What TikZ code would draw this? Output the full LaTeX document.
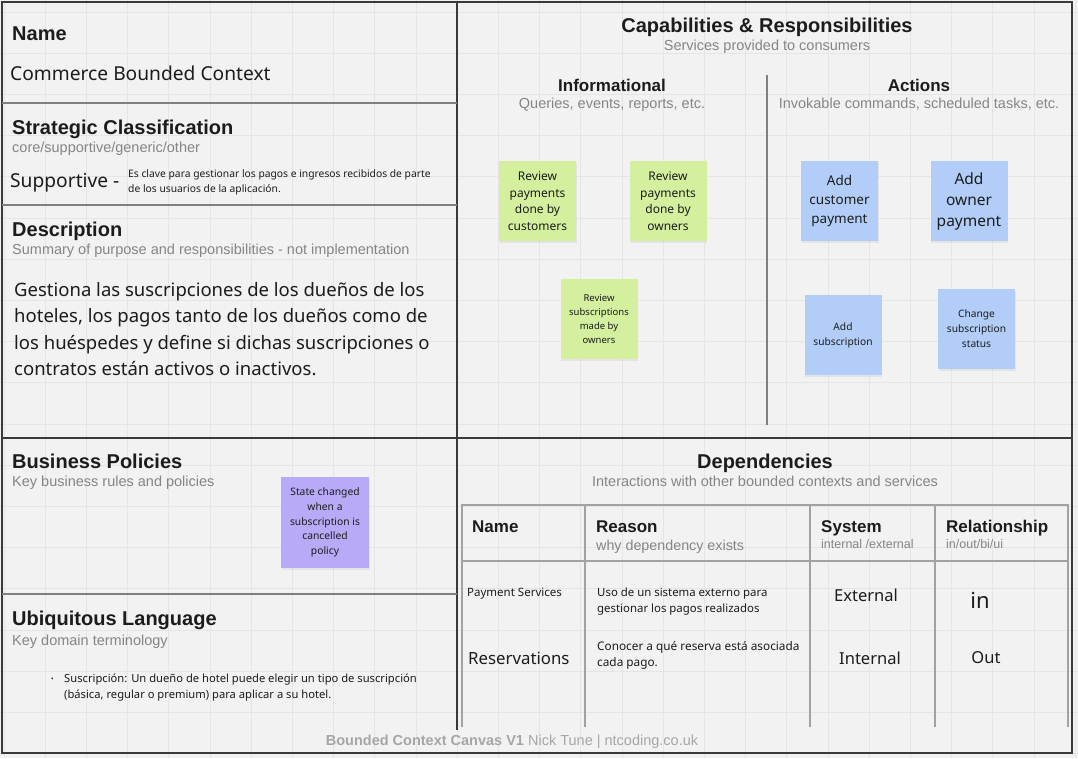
\documentclass[tikz,border=0pt]{standalone}
\usepackage{fontspec}
\setmainfont{Noto Sans}
\newfontfamily\headfont{Liberation Sans}
\usetikzlibrary{shadows}

\definecolor{canvasBg}{HTML}{F2F2F2}
\definecolor{gridLine}{HTML}{E5E5E5}
\definecolor{frameDark}{HTML}{3A3A3A}
\definecolor{frameGrey}{HTML}{808080}
\definecolor{tableGrey}{HTML}{A2A2A2}
\definecolor{subGrey}{HTML}{858585}
\definecolor{footGrey}{HTML}{A6A6A6}
\definecolor{inkText}{HTML}{1C1C1C}
\definecolor{noteGreen}{HTML}{D4EF9E}
\definecolor{noteBlue}{HTML}{B2CEF8}
\definecolor{notePurple}{HTML}{B8AAF7}

\tikzset{
  title/.style={font=\headfont\bfseries\fontsize{20}{24}\selectfont, text=inkText, inner sep=0pt},
  subtitle/.style={font=\headfont\fontsize{14.5}{17}\selectfont, text=subGrey, inner sep=0pt},
  colhead/.style={font=\headfont\bfseries\fontsize{17}{20}\selectfont, text=inkText, inner sep=0pt},
  colsub/.style={font=\headfont\fontsize{14.5}{17}\selectfont, text=subGrey, inner sep=0pt},
  plain/.style={text=inkText, inner sep=0pt, align=left},
  note/.style={minimum width=77pt, minimum height=80pt, inner sep=2pt, align=center, text=inkText,
    drop shadow={shadow xshift=0.6pt, shadow yshift=-1.6pt, opacity=0.12}},
  green note/.style={note, fill=noteGreen},
  blue note/.style={note, fill=noteBlue},
  purple note/.style={note, fill=notePurple, minimum width=88pt, minimum height=91pt}
}

\begin{document}
\begin{tikzpicture}[x=1pt,y=-1pt]
  \useasboundingbox[fill=canvasBg] (0,0) rectangle (1078,758);
  \foreach \gx in {0,...,26}
    \draw[gridLine, line width=1pt] ({4+41.2*\gx},0) -- ({4+41.2*\gx},758);
  \foreach \gy in {0,...,18}
    \draw[gridLine, line width=1pt] (0,{12+41.2*\gy}) -- (1078,{12+41.2*\gy});

  % frame
  \draw[frameDark, line width=2pt] (2,2) rectangle (1072,753);
  \draw[frameDark, line width=2pt] (457,2) -- (457,730);
  \draw[frameDark, line width=2pt] (2,438) -- (1072,438);
  \draw[frameGrey, line width=1.5pt] (2,103) -- (457,103) (2,205) -- (457,205) (2,594) -- (457,594);
  \draw[frameGrey, line width=2pt] (767,75) -- (767,425);

  % left column
  \node[title, anchor=base west] (nameT) at (12,40) {Name};
  \node[plain, anchor=base west, font=\fontsize{19.2}{22}\selectfont] (nameV) at (10,80) {Commerce Bounded Context};
  \node[title, anchor=base west] (stratT) at (12,134) {Strategic Classification};
  \node[subtitle, anchor=base west] (stratS) at (12,152) {core/supportive/generic/other};
  \node[plain, anchor=base west, font=\fontsize{19.2}{22}\selectfont] (stratV) at (10,187) {Supportive -};
  \node[plain, anchor=west, font=\fontsize{10.3}{15}\selectfont] (stratN) at (128,182)
    {Es clave para gestionar los pagos e ingresos recibidos de parte\\de los usuarios de la aplicación.};
  \node[title, anchor=base west] (descT) at (12,236) {Description};
  \node[subtitle, anchor=base west] (descS) at (12,254) {Summary of purpose and responsibilities - not implementation};
  \node[plain, anchor=west, font=\fontsize{18.5}{26.3}\selectfont] (descV) at (14,329)
    {Gestiona las suscripciones de los dueños de los\\hoteles, los pagos tanto de los dueños como de\\los huéspedes y define si dichas suscripciones o\\contratos están activos o inactivos.};

  \node[title, anchor=base west] (polT) at (12,468) {Business Policies};
  \node[subtitle, anchor=base west] (polS) at (12,486) {Key business rules and policies};
  \node[purple note, font=\fontsize{10.3}{14.6}\selectfont] (polCancel) at (325,522.5)
    {State changed\\when a\\subscription is\\cancelled\\policy};

  \node[title, anchor=base west] (ulT) at (12,625) {Ubiquitous Language};
  \node[subtitle, anchor=base west] (ulS) at (12,645) {Key domain terminology};
  \node[plain, anchor=west, font=\fontsize{7}{9}\selectfont] (ulBullet) at (51,680) {•};
  \node[plain, anchor=west, font=\fontsize{11.2}{16}\selectfont] (ulText) at (64,688)
    {Suscripción: Un dueño de hotel puede elegir un tipo de suscripción\\(básica, regular o premium) para aplicar a su hotel.};

  % capabilities
  \node[title, anchor=base] (capT) at (767,32) {Capabilities \& Responsibilities};
  \node[subtitle, anchor=base] (capS) at (767,50) {Services provided to consumers};
  \node[colhead, anchor=base] (infoT) at (612,91) {Informational};
  \node[colsub, anchor=base] (infoS) at (612,108) {Queries, events, reports, etc.};
  \node[colhead, anchor=base] (actT) at (919,91) {Actions};
  \node[colsub, anchor=base] (actS) at (919,108) {Invokable commands, scheduled tasks, etc.};

  \node[green note, font=\fontsize{12}{16.7}\selectfont] (revCust) at (537.5,201) {Review\\payments\\done by\\customers};
  \node[green note, font=\fontsize{12}{16.7}\selectfont] (revOwn) at (668,201) {Review\\payments\\done by\\owners};
  \node[green note, font=\fontsize{9.5}{14.3}\selectfont] (revSub) at (599,319) {Review\\subscriptions\\made by\\owners};

  \node[blue note, font=\fontsize{13.5}{19}\selectfont] (addCust) at (839.5,201) {Add\\customer\\payment};
  \node[blue note, font=\fontsize{15.5}{21}\selectfont] (addOwn) at (969,201) {Add\\owner\\payment};
  \node[blue note, font=\fontsize{10.2}{15.3}\selectfont] (addSub) at (843,335) {Add\\subscription};
  \node[blue note, font=\fontsize{10.2}{15}\selectfont] (chgSub) at (976.5,329) {Change\\subscription\\status};

  % dependencies
  \node[title, anchor=base] (depT) at (765,468) {Dependencies};
  \node[subtitle, anchor=base] (depS) at (765,486) {Interactions with other bounded contexts and services};
  \draw[tableGrey, line width=1.5pt] (462,727) -- (462,505) -- (1068,505) -- (1068,727);
  \draw[tableGrey, line width=1.5pt] (462,561) -- (1068,561);
  \foreach \tx in {585,810,935}
    \draw[tableGrey, line width=1.5pt] (\tx,505) -- (\tx,727);

  \node[colhead, anchor=base west] (colName) at (472,532) {Name};
  \node[colhead, anchor=base west] (colReason) at (596,532) {Reason};
  \node[colsub, anchor=base west, font=\headfont\fontsize{14.3}{16}\selectfont] (colReasonS) at (596,550) {why dependency exists};
  \node[colhead, anchor=base west] (colSys) at (821,532) {System};
  \node[colsub, anchor=base west, font=\headfont\fontsize{12.5}{15}\selectfont] (colSysS) at (821,548) {internal /external};
  \node[colhead, anchor=base west] (colRel) at (946,532) {Relationship};
  \node[colsub, anchor=base west, font=\headfont\fontsize{12.5}{15}\selectfont] (colRelS) at (946,548) {in/out/bi/ui};

  \node[plain, anchor=west, font=\fontsize{11.5}{14}\selectfont] (depPay) at (467,594) {Payment Services};
  \node[plain, anchor=west, font=\fontsize{11.4}{16}\selectfont] (depPayWhy) at (597,602)
    {Uso de un sistema externo para\\gestionar los pagos realizados};
  \node[plain, font=\fontsize{16.5}{20}\selectfont] (depPaySys) at (866,595) {External};
  \node[plain, font=\fontsize{22}{26}\selectfont] (depPayRel) at (980,600) {in};
  \node[plain, anchor=west, font=\fontsize{16.8}{20}\selectfont] (depRes) at (468,658) {Reservations};
  \node[plain, anchor=west, font=\fontsize{11.8}{16}\selectfont] (depResWhy) at (597,655)
    {Conocer a qué reserva está asociada\\cada pago.};
  \node[plain, font=\fontsize{16.5}{20}\selectfont] (depResSys) at (870,658) {Internal};
  \node[plain, font=\fontsize{16.5}{20}\selectfont] (depResRel) at (986,658) {Out};

  \node[anchor=base, inner sep=0pt, text=footGrey, font=\headfont\fontsize{14.5}{16}\selectfont] (footer) at (512,745)
    {\textbf{Bounded Context Canvas V1} Nick Tune | ntcoding.co.uk};
\end{tikzpicture}
\end{document}
